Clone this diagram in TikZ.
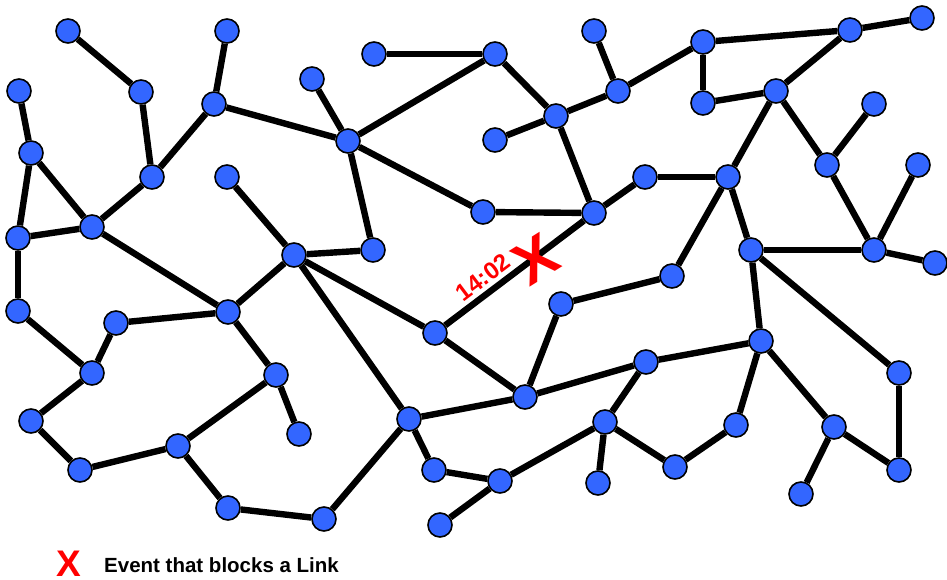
\documentclass[tikz,border=0pt]{standalone}
\usepackage{fontspec}
\setmainfont{Liberation Sans}
\usetikzlibrary{backgrounds}
\definecolor{nodeblue}{RGB}{51,102,255}
\definecolor{alertred}{RGB}{255,0,0}
\tikzset{
  vtx/.style={circle, fill=nodeblue, draw=black, line width=1.6pt, minimum size=24pt, inner sep=0pt},
  link/.style={draw=black, line width=6.4pt},
  blockmark/.style={text=alertred, inner sep=0pt, font=\fontsize{60}{60}\selectfont\bfseries},
  blocktime/.style={text=alertred, inner sep=0pt, font=\fontsize{24}{24}\selectfont\bfseries},
  legendmark/.style={text=alertred, inner sep=0pt, font=\fontsize{37}{37}\selectfont\bfseries},
  legendtext/.style={text=black, inner sep=0pt, font=\fontsize{20.5}{24}\selectfont\bfseries}
}
\begin{document}
\begin{tikzpicture}[x=1pt, y=-1pt]
\useasboundingbox (0,0) rectangle (947,580);

% network nodes
\foreach \n/\px/\py in {
  n1/68/31, n2/141/92, n3/227/31, n4/214/104, n5/19/91, n6/31/153,
  n7/152/177, n8/92/227, n9/18/238, n10/227/177, n11/294/255, n12/312/79,
  n13/348/141, n14/374/54, n15/495/54, n16/373/250, n17/483/212, n18/594/31,
  n19/618/91, n20/556/116, n21/495/140, n22/594/213, n23/645/177, n24/703/42,
  n25/703/103, n26/776/91, n27/850/30, n28/922/18, n29/874/104, n30/827/165,
  n31/728/177, n32/918/165, n33/751/250, n34/874/250, n35/935/263, n36/672/276,
  n37/561/304, n38/18/311, n39/116/323, n40/228/312, n41/92/373, n42/276/375,
  n43/31/421, n44/299/434, n45/80/470, n46/178/446, n47/228/508, n48/324/519,
  n49/435/333, n50/409/419, n51/525/397, n52/646/362, n53/761/341, n54/899/373,
  n55/605/422, n56/736/425, n57/834/427, n58/899/470, n59/434/470, n60/500/481,
  n61/598/483, n62/675/467, n63/801/494, n64/440/525}
  \node[vtx] (\n) at (\px,\py) {};

% links
\begin{scope}[on background layer]
\foreach \a/\b in {
  n1/n2, n2/n7, n3/n4, n4/n7, n4/n13, n5/n6, n6/n9, n6/n8, n7/n8, n8/n9,
  n8/n40, n9/n38, n10/n11, n11/n16, n11/n40, n11/n49, n11/n50, n12/n13,
  n13/n15, n13/n16, n13/n17, n14/n15, n15/n20, n17/n22, n18/n19, n19/n20,
  n19/n24, n20/n21, n20/n22, n22/n23, n22/n49, n23/n31, n24/n25, n24/n27,
  n25/n26, n26/n27, n27/n28, n26/n31, n26/n30, n29/n30, n30/n34, n32/n34,
  n34/n35, n31/n33, n33/n34, n31/n36, n36/n37, n37/n51, n33/n53, n33/n54,
  n54/n58, n38/n41, n39/n41, n39/n40, n40/n42, n41/n43, n42/n44, n42/n46,
  n43/n45, n45/n46, n46/n47, n47/n48, n48/n50, n49/n51, n50/n51, n50/n59,
  n51/n52, n52/n53, n52/n55, n53/n56, n53/n57, n55/n62, n56/n62, n55/n60,
  n55/n61, n57/n58, n57/n63, n59/n60, n60/n64}
  \draw[link] (\a) -- (\b);
\end{scope}

% blocking event on the link n49--n22
\node[blockmark, rotate=32] (blk) at (536,259) {X};
\node[blocktime, rotate=37] (blktime) at (483,277) {14:02};

% legend
\node[legendmark, anchor=base west] (legx) at (56,576) {X};
\node[legendtext, anchor=base west] (legtxt) at (104,572) {Event that blocks a Link};
\end{tikzpicture}
\end{document}
